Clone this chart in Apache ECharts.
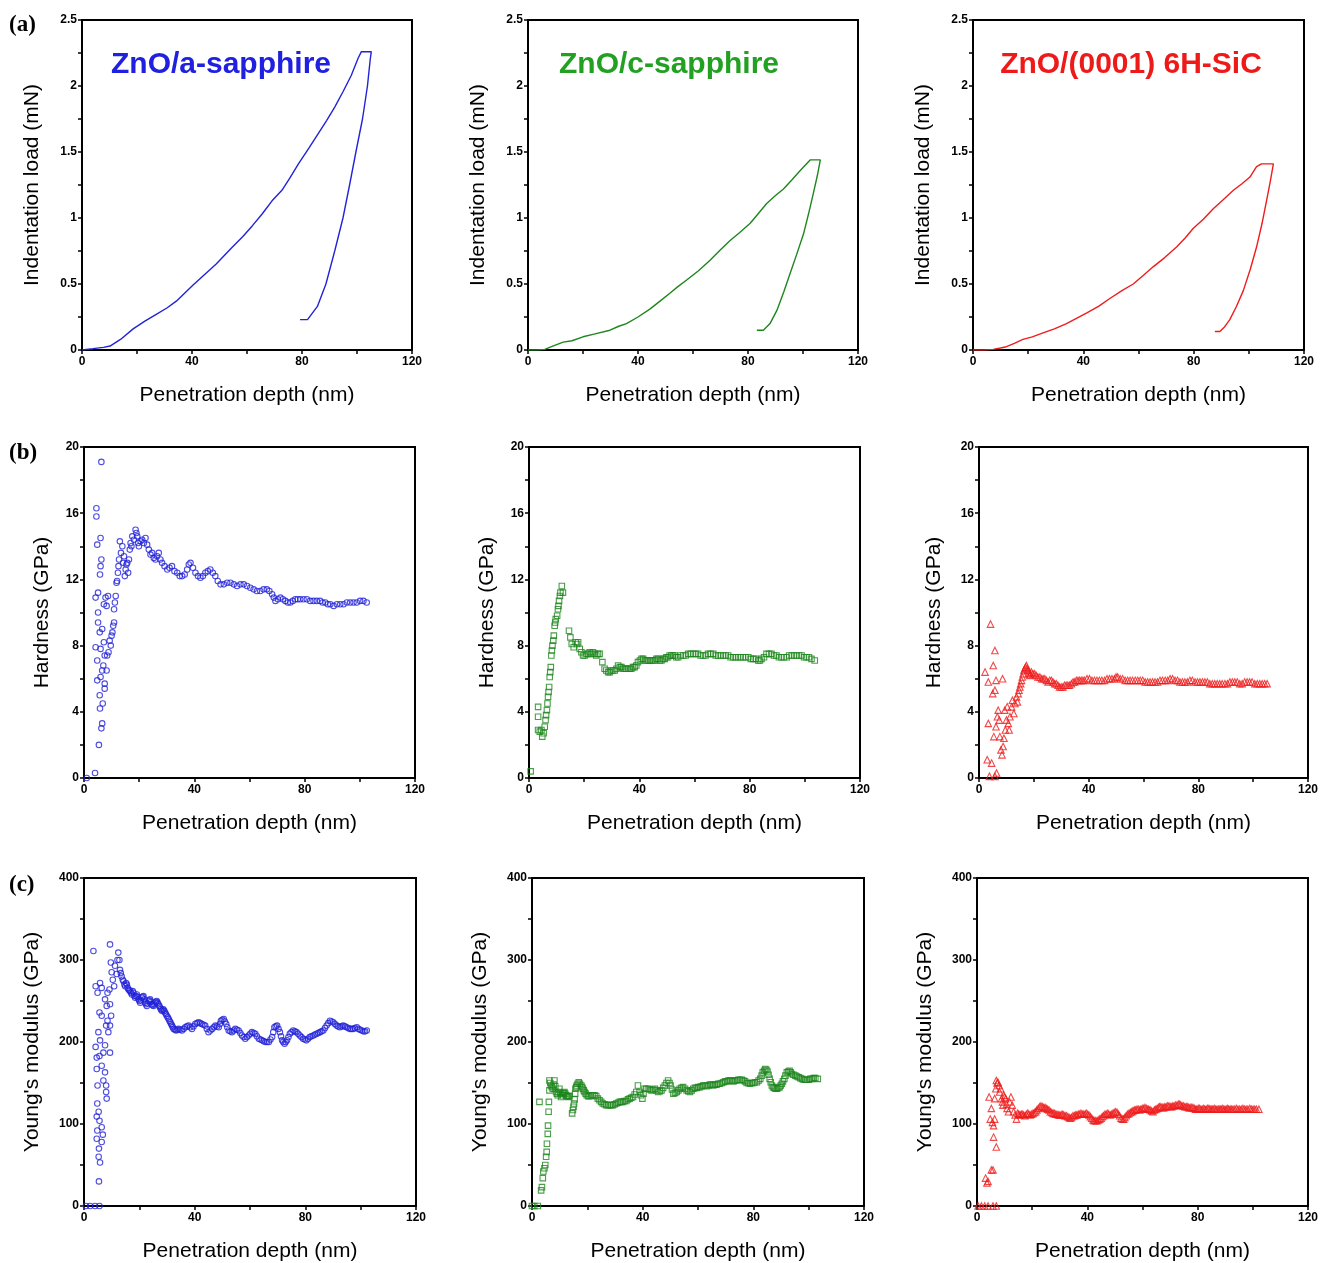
<!DOCTYPE html>
<html><head><meta charset="utf-8">
<script src="https://cdn.jsdelivr.net/npm/echarts@6/dist/echarts.min.js"></script>
<style>html,body{margin:0;padding:0;background:#fff}#c{width:1321px;height:1263px}</style>
</head><body><div id="c"></div>
<script>
// ---- tick labels ----
const xTicks = [0, 40, 80, 120];
const loadTicks = [0, 0.5, 1, 1.5, 2, 2.5];
const hardTicks = [0, 4, 8, 12, 16, 20];
const modTicks = [0, 100, 200, 300, 400];
const sampleNames = ['ZnO/a-sapphire', 'ZnO/c-sapphire', 'ZnO/(0001) 6H-SiC'];
const panelLabels = ['(a)', '(b)', '(c)'];

// ---- (a) load-displacement curves [depth nm, load mN] ----
const loadA = [[0,0],[0.6,0],[4,0.01],[7.8,0.02],[10.2,0.03],[14,0.08],[18.6,0.16],[23,0.22],[27,0.27],[31,0.32],[34.3,0.37],[40.3,0.49],[44.5,0.57],[48.7,0.65],[54.7,0.78],[58.5,0.86],[61.9,0.94],[65.5,1.03],[69.1,1.13],[72.7,1.21],[75.5,1.3],[78.7,1.41],[82.5,1.53],[85.9,1.64],[89,1.74],[91.9,1.84],[95,1.96],[97.9,2.08],[100.4,2.21],[101.6,2.26],[105.2,2.26],[104.8,2.2],[103.8,2.0],[102,1.75],[99.6,1.5],[97.3,1.25],[94.9,1.0],[91.9,0.75],[88.7,0.5],[85.6,0.33],[82,0.23],[79.3,0.23]];
const loadC = [[0,0],[3,0],[6.1,0.005],[9,0.03],[12.8,0.06],[16,0.07],[20,0.1],[24,0.12],[29.8,0.15],[33,0.18],[35.8,0.2],[40,0.25],[44.3,0.31],[48,0.37],[51.6,0.43],[54.5,0.48],[57.7,0.53],[62,0.6],[66.2,0.68],[70,0.76],[73.5,0.83],[77,0.89],[80.8,0.96],[84,1.04],[86.8,1.11],[90,1.17],[92.9,1.22],[96,1.29],[99,1.36],[102.6,1.44],[106.3,1.44],[105.2,1.32],[103.8,1.19],[102,1.03],[100.2,0.88],[97.8,0.73],[95.3,0.58],[93,0.44],[90.5,0.3],[88,0.2],[85.6,0.15],[83.2,0.15]];
const loadS = [[0,0],[4,0],[7.3,0.005],[10,0.015],[12.1,0.025],[15,0.05],[18.1,0.08],[21.5,0.1],[25.4,0.13],[29.5,0.16],[33.9,0.2],[37.5,0.24],[41.1,0.28],[45.5,0.33],[49.6,0.39],[54,0.45],[58.1,0.5],[62,0.57],[65.3,0.63],[69.5,0.7],[73.8,0.78],[77,0.85],[79.8,0.92],[83.5,0.99],[87.1,1.07],[90.8,1.14],[94.4,1.21],[97.5,1.26],[100.4,1.31],[102.8,1.39],[104.6,1.41],[108.9,1.41],[107.8,1.28],[106.5,1.14],[104.8,0.96],[102.8,0.78],[100.5,0.61],[98,0.45],[95.5,0.33],[93.1,0.23],[91,0.17],[89.5,0.14],[87.7,0.14]];

// ---- (b) hardness [depth nm, GPa] ----
const hardA = [[1,0],[4,0.3],[5.4,2.0],[6.3,3.0],[6.6,3.3],[5.8,4.2],[6.8,4.5],[5.7,5.0],[4.8,5.9],[6,6.1],[6.6,6.5],[4.8,7.1],[4.2,7.9],[6,7.8],[5.7,8.8],[5.1,9.4],[5.1,10.0],[4.2,10.9],[5.1,11.2],[5.8,12.3],[6,12.8],[6.3,13.2],[6,14.5],[4.8,14.1],[4.5,15.8],[4.5,16.3],[6.3,19.1],[7.2,10.5],[7.8,10.9],[8.7,11.0],[8.2,10.4],[7.5,7.4],[8.2,6.5],[7.5,5.7],[7.5,5.4],[7,6.8],[7.2,8.2],[6.6,9.0],[8.4,7.4],[8.9,7.6],[9.3,8.3],[9.7,8.0],[10,8.6],[10.3,8.8],[10.6,9.2],[10.9,9.4],[10.9,10.2],[11.2,10.6],[11.5,11.0],[11.8,11.8],[12,11.9],[12.3,12.4],[12.5,12.8],[12.7,13.2],[13,14.3],[13.4,13.6],[13.9,14.0],[14.2,13.0],[14.5,13.4],[14.8,12.2],[15.1,12.6],[15.4,12.9],[15.7,13.0],[16,12.4],[16.3,13.2],[16.6,13.8],[16.9,14.2],[17.2,14.0],[17.5,14.6],[18.1,14.4],[18.7,15.0],[19,14.8],[19.3,14.6],[19.6,14.2],[19.9,14.0],[20.5,14.3],[21.1,14.4],[21.7,14.2],[22.3,14.5],[22.9,14.1],[23.5,13.8],[24.1,13.5],[24.7,13.6],[25.3,13.3],[25.9,13.2],[26.5,13.4],[27.1,13.6],[27.7,13.2],[28.3,13.0],[29.2,12.8],[30.2,12.6],[31,12.7],[31.9,12.8],[32.8,12.5],[33.8,12.4],[34.7,12.2],[35.6,12.2],[36.5,12.3],[37.4,12.6],[38,12.9],[38.6,13.0],[39.5,12.7],[40.4,12.4],[41.3,12.2],[42.2,12.1],[43.1,12.2],[44,12.4],[44.9,12.5],[45.8,12.6],[46.7,12.4],[47.6,12.2],[48.5,11.9],[49.5,11.7],[50.7,11.7],[51.9,11.8],[53.1,11.8],[54.3,11.7],[55.5,11.6],[56.7,11.7],[57.9,11.7],[59.1,11.6],[60.3,11.5],[61.5,11.4],[62.7,11.3],[63.9,11.3],[65.1,11.4],[66.3,11.4],[67.2,11.3],[68.2,11.1],[68.8,10.9],[69.4,10.7],[70.3,10.8],[71.2,10.9],[72.1,10.8],[73,10.7],[73.9,10.6],[74.8,10.6],[75.7,10.7],[76.6,10.8],[77.5,10.8],[78.4,10.8],[79.6,10.8],[80.8,10.8],[82,10.7],[83.2,10.7],[84.4,10.7],[85.6,10.7],[86.5,10.6],[87.5,10.6],[88.4,10.5],[89.3,10.5],[90.5,10.4],[91.7,10.5],[92.9,10.5],[94.1,10.5],[95.3,10.6],[96.5,10.6],[97.7,10.6],[98.9,10.6],[100.1,10.7],[101.3,10.7],[102.5,10.6]];
const hardC = [[0.6,0.4],[3.3,4.3],[3.3,3.7],[3.3,2.9],[3.9,2.8],[4.5,2.9],[4.8,2.5],[5.3,2.7],[5.7,3.1],[6,3.5],[6.2,3.8],[6.5,4.1],[6.7,4.5],[6.9,4.9],[7.1,5.2],[7.3,5.5],[7.5,6.1],[7.7,6.4],[7.9,6.7],[8.1,7.4],[8.3,7.7],[8.5,8.0],[8.8,8.3],[9,8.6],[9.3,9.2],[9.5,9.4],[9.7,9.6],[10.2,9.8],[10.5,10.2],[10.7,10.4],[10.9,10.7],[11.2,11.0],[11.4,11.2],[11.9,11.6],[12.3,11.2],[14.5,8.9],[15,8.5],[15.5,8.1],[16.2,7.9],[16.9,8.2],[17.4,8.1],[17.8,8.2],[18.4,7.8],[19,7.6],[19.6,7.4],[20.2,7.4],[20.8,7.5],[21.4,7.5],[22,7.6],[22.6,7.5],[23.2,7.6],[23.8,7.5],[24.4,7.4],[25,7.5],[25.6,7.5],[26.6,7.0],[27.4,6.6],[28,6.5],[28.7,6.4],[29.3,6.4],[29.9,6.5],[30.5,6.5],[31.1,6.5],[31.7,6.6],[32.3,6.8],[32.9,6.7],[33.5,6.7],[34.1,6.6],[34.7,6.6],[35.3,6.6],[35.9,6.6],[36.5,6.6],[37.1,6.6],[37.7,6.7],[38.3,6.7],[38.9,6.8],[39.5,7.0],[40.2,7.1],[40.8,7.2],[41.4,7.2],[42,7.1],[42.6,7.1],[43.2,7.1],[43.8,7.1],[44.4,7.1],[45,7.1],[45.6,7.1],[46.2,7.2],[46.8,7.2],[47.4,7.1],[48,7.1],[48.6,7.2],[49.2,7.2],[49.8,7.3],[50.4,7.3],[51,7.4],[51.6,7.4],[52.2,7.4],[52.8,7.4],[53.4,7.3],[54.1,7.3],[55,7.4],[55.9,7.4],[56.8,7.4],[57.7,7.5],[58.6,7.5],[59.5,7.5],[60.4,7.5],[61.3,7.5],[62.2,7.4],[63.1,7.4],[64,7.4],[64.9,7.5],[65.8,7.5],[66.8,7.5],[67.7,7.4],[68.6,7.4],[69.5,7.4],[70.4,7.4],[71.3,7.4],[72.2,7.4],[73.1,7.3],[74,7.3],[74.9,7.3],[75.8,7.3],[76.7,7.3],[77.6,7.3],[78.5,7.3],[79.5,7.3],[80.4,7.2],[81.3,7.2],[82.2,7.2],[83.1,7.1],[83.7,7.1],[84.3,7.2],[85.2,7.3],[86.1,7.5],[87,7.5],[87.9,7.5],[88.8,7.4],[89.7,7.4],[90.6,7.3],[91.5,7.3],[92.4,7.3],[93.4,7.3],[94.3,7.4],[95.2,7.4],[96.1,7.4],[97,7.4],[97.9,7.4],[98.8,7.4],[99.7,7.3],[100.6,7.3],[101.5,7.3],[102.4,7.2],[103.6,7.1]];
const hardS = [[2.2,6.4],[3.4,5.8],[3.4,3.3],[3,1.1],[4.6,0.9],[3.8,0.1],[5.8,0.1],[6.4,0.3],[4.2,9.3],[5.2,6.8],[5.8,7.7],[5,5.1],[5.8,5.3],[6.2,5.9],[8.6,6.0],[5.4,2.5],[6.2,3.1],[6.7,3.7],[7,4.1],[7.4,3.5],[7.6,2.5],[8,1.7],[8.4,1.4],[8.8,1.9],[9.1,2.4],[9.6,2.9],[10,3.5],[9.4,4.1],[10.3,4.3],[10.7,3.3],[11,2.9],[11.3,3.7],[11.9,4.3],[12.2,4.7],[12.7,3.9],[13.1,4.5],[13.7,4.9],[14,4.6],[14.3,5.1],[14.6,5.3],[14.9,5.5],[15.2,5.7],[15.5,5.9],[15.8,6.1],[16.1,6.3],[16.4,6.5],[16.7,6.6],[17,6.7],[17.3,6.8],[17.6,6.6],[17.9,6.5],[18.2,6.3],[18.5,6.2],[18.8,6.3],[19.1,6.4],[19.7,6.3],[20.3,6.3],[20.9,6.2],[21.5,6.1],[22.2,6.1],[22.8,6.0],[23.4,6.0],[24,6.0],[24.6,5.9],[25.2,5.8],[25.8,5.9],[26.4,5.9],[27,5.8],[27.6,5.7],[28.2,5.7],[28.8,5.6],[29.4,5.5],[30,5.5],[30.6,5.5],[31.2,5.6],[31.8,5.6],[32.4,5.6],[33,5.6],[33.7,5.7],[34.3,5.8],[34.9,5.8],[35.5,5.9],[36.1,5.9],[36.7,5.9],[37.3,5.9],[37.9,5.9],[38.5,5.9],[39.4,6.0],[40.3,6.0],[41.2,5.9],[42.1,5.9],[43,5.9],[43.9,5.9],[44.8,5.9],[45.8,5.9],[46.7,6.0],[47.6,6.0],[48.5,6.0],[49.4,6.0],[50,6.1],[50.6,6.1],[51.5,6.0],[52.4,6.0],[53.3,5.9],[54.2,5.9],[55.1,5.9],[56,5.9],[57,5.9],[57.9,5.9],[58.8,5.9],[59.7,5.9],[60.6,5.8],[61.5,5.8],[62.4,5.8],[63.3,5.8],[64.2,5.8],[65.1,5.8],[66,5.9],[66.9,5.9],[67.9,5.9],[68.8,5.9],[69.7,6.0],[70.6,6.0],[71.5,5.9],[72.4,5.9],[73.3,5.8],[74.2,5.8],[75.1,5.8],[76,5.8],[76.9,5.9],[77.8,5.9],[78.8,5.8],[79.7,5.8],[80.6,5.8],[81.5,5.8],[82.4,5.8],[83.3,5.8],[84.2,5.7],[85.1,5.7],[86,5.7],[86.9,5.7],[87.8,5.7],[88.7,5.7],[89.7,5.7],[90.6,5.7],[91.5,5.8],[92.4,5.8],[93.3,5.8],[94.2,5.8],[95.1,5.7],[96,5.7],[96.9,5.8],[97.8,5.8],[98.7,5.8],[99.6,5.8],[100.6,5.7],[101.5,5.7],[102.4,5.7],[103.3,5.7],[104.2,5.7],[105.1,5.7]];

// ---- (c) Young's modulus [depth nm, GPa] ----
const modA = [[0.7,0],[2.2,0],[4,0],[5.6,0],[3.4,311],[4.2,268],[5.8,272],[6.4,266],[4.9,260],[5.6,236],[6.4,232],[5.2,212],[5.8,202],[4.2,194],[4.6,181],[5.6,183],[6.4,171],[4.6,167],[4.9,147],[4.8,125],[5.3,115],[4.6,109],[5.6,104],[4.8,92],[4.6,82],[5.4,70],[5.3,60],[5.8,53],[5.4,30],[6.4,96],[6.8,87],[6.4,78],[7,153],[7.6,163],[8,147],[8,139],[8.2,131],[7,187],[7.6,196],[8,220],[8.5,226],[8.8,212],[8.2,244],[7.6,252],[8.5,260],[9.2,264],[9.4,246],[9.8,232],[9.4,220],[9.4,187],[9.4,319],[9.7,297],[10,285],[10.4,276],[10.9,268],[11.2,293],[11.8,283],[12.1,300],[12.4,309],[12.8,300],[13,288],[13.3,284],[13.6,280],[14,276],[14.3,274],[14.6,270],[14.9,268],[15.2,272],[15.5,270],[15.8,266],[16.1,264],[16.4,263],[16.7,262],[17,260],[17.3,258],[17.6,262],[17.9,260],[18.2,256],[18.5,254],[18.8,256],[19.1,258],[19.4,255],[19.7,252],[20,250],[20.3,248],[20.6,251],[20.9,254],[21.2,255],[21.5,256],[21.8,252],[22.1,248],[22.4,246],[22.7,244],[23,247],[23.3,250],[23.6,251],[23.9,252],[24.2,249],[24.5,246],[24.8,245],[25.1,244],[25.4,246],[25.7,248],[26,249],[26.3,250],[26.6,248],[26.9,246],[27.2,244],[27.5,242],[27.8,240],[28.1,238],[28.4,239],[28.7,240],[29,238],[29.3,236],[29.6,234],[29.9,232],[30.3,230],[30.6,228],[30.9,226],[31.2,224],[31.5,222],[31.8,220],[32.1,218],[32.4,216],[32.9,215],[33.3,214],[33.8,215],[34.2,216],[34.8,215],[35.4,214],[36,216],[36.6,218],[37.2,219],[37.8,220],[38.4,218],[39,216],[39.6,219],[40.2,222],[40.8,223],[41.4,224],[42,223],[42.6,222],[43.2,221],[43.8,220],[44.4,216],[45,212],[45.7,214],[46.3,216],[46.9,218],[47.5,220],[48.1,219],[48.7,218],[49.1,222],[49.5,226],[50,227],[50.5,228],[50.9,225],[51.4,222],[51.8,218],[52.3,214],[52.9,213],[53.5,212],[54.1,214],[54.7,216],[55.3,215],[55.9,214],[56.5,211],[57.1,208],[57.7,206],[58.3,204],[58.9,206],[59.5,208],[60.1,210],[60.7,212],[61.3,211],[61.9,210],[62.5,207],[63.2,204],[63.8,203],[64.4,202],[65,201],[65.6,200],[66.2,200],[66.8,200],[67.4,203],[68,206],[68.4,212],[68.8,218],[69.3,219],[69.8,220],[70.3,216],[70.8,212],[71.2,207],[71.6,202],[72,200],[72.5,198],[72.9,200],[73.4,202],[73.9,206],[74.4,210],[75,212],[75.6,214],[76.2,213],[76.8,212],[77.4,210],[78,208],[78.6,206],[79.2,204],[79.8,203],[80.4,202],[81,204],[81.6,206],[82.2,207],[82.9,208],[83.5,209],[84.1,210],[84.7,211],[85.3,212],[85.9,213],[86.5,214],[87.1,217],[87.7,220],[88.3,223],[88.9,226],[89.5,225],[90.1,224],[90.7,222],[91.3,220],[91.9,219],[92.5,218],[93.1,219],[93.7,220],[94.3,219],[94.9,218],[95.5,217],[96.1,216],[96.7,216],[97.3,216],[97.9,217],[98.6,218],[99.2,216],[99.8,215],[100.4,214],[101,213],[101.6,213],[102.2,214]];
const modC = [[0,0],[0.8,0],[2.1,0],[2.7,127],[3.3,19],[3.6,23],[3.9,34],[4.1,42],[4.5,46],[4.8,50],[5.1,60],[5.3,66],[5.4,76],[5.7,88],[5.8,98],[6,115],[6.1,127],[6.3,141],[6.3,153],[6.6,150],[6.9,147],[7.2,145],[7.5,143],[7.8,148],[8.1,153],[8.4,146],[8.7,139],[9,137],[9.3,135],[9.6,139],[9.9,143],[10.2,138],[10.5,133],[10.8,135],[11.1,137],[11.4,138],[11.7,139],[12,137],[12.3,135],[12.6,134],[12.9,133],[13.2,134],[13.5,134],[14.5,113],[14.8,117],[15,121],[15.2,125],[15.4,130],[15.6,137],[15.7,143],[16,145],[16.2,147],[16.5,149],[16.9,151],[17.3,149],[17.8,147],[18.1,145],[18.4,143],[18.7,141],[19,139],[19.4,137],[19.8,135],[20.3,134],[20.8,134],[21.4,135],[22,135],[22.6,135],[23.2,134],[23.8,131],[24.4,129],[25,127],[25.6,125],[26.2,124],[26.8,123],[27.4,123],[28.1,123],[28.7,123],[29.3,123],[29.9,124],[30.5,125],[31.1,126],[31.7,127],[32.3,127],[32.9,127],[33.5,128],[34.1,128],[34.7,130],[35.3,131],[35.9,132],[36.5,133],[37.1,136],[37.7,139],[38.3,147],[38.9,139],[39.4,135],[39.9,131],[40.3,137],[40.7,143],[41.3,143],[41.9,143],[42.5,142],[43.2,141],[43.8,142],[44.4,143],[45,141],[45.6,139],[46.2,140],[46.8,141],[47.4,144],[48,147],[48.6,150],[49.2,153],[49.7,150],[50.1,147],[50.6,142],[51.1,137],[51.7,138],[52.3,139],[52.9,141],[53.4,143],[54,144],[54.6,145],[55.3,143],[55.9,141],[56.5,140],[57.1,139],[57.7,141],[58.3,143],[58.9,144],[59.5,144],[60.1,145],[60.7,145],[61.3,146],[61.9,147],[62.5,147],[63.1,146],[63.7,147],[64.3,148],[64.9,148],[65.5,147],[66.1,148],[66.7,148],[67.3,149],[67.9,149],[68.6,150],[69.2,151],[69.8,152],[70.4,152],[71,153],[71.6,153],[72.2,153],[72.8,152],[73.4,153],[74,153],[74.6,154],[75.2,154],[75.8,154],[76.4,153],[77,152],[77.6,150],[78.2,150],[78.8,149],[79.4,150],[80,150],[80.6,151],[81.3,151],[81.9,153],[82.5,155],[83,159],[83.4,163],[83.9,165],[84.3,167],[84.7,166],[85.1,164],[85.5,160],[85.9,155],[86.3,151],[86.7,147],[87.1,145],[87.5,144],[88,143],[88.5,143],[89,144],[89.5,145],[89.9,147],[90.3,149],[90.7,152],[91.2,155],[91.6,159],[92.1,163],[92.6,164],[93.1,165],[93.5,163],[93.9,161],[94.5,160],[95.2,159],[95.8,158],[96.4,157],[97,156],[97.6,155],[98.2,154],[98.8,154],[99.4,154],[100,154],[100.6,155],[101.2,155],[101.8,156],[102.4,156],[103.3,155]];
const modS = [[0.4,0],[1.6,0],[2.8,0],[4,0],[5.8,0],[7,0],[3.1,34],[3.6,28],[4,30],[5.2,44],[5.8,44],[4.4,133],[4.8,106],[5.2,119],[5.6,102],[6,98],[6.4,106],[6,84],[7,72],[6.4,131],[6.8,143],[7,153],[7.3,150],[7.6,151],[8,147],[8.2,139],[8.6,143],[8.9,131],[9.2,127],[9.4,123],[9.7,135],[10,133],[10.4,131],[10.7,124],[10.9,119],[11.4,115],[11.8,127],[12.3,133],[12.8,123],[13.3,115],[13.8,111],[14.3,106],[14.7,113],[15.1,112],[15.5,111],[16,112],[16.4,112],[16.9,111],[17.4,110],[17.9,112],[18.4,113],[18.8,112],[19.3,111],[19.8,112],[20.3,113],[20.8,114],[21.3,115],[21.7,117],[22.2,119],[22.7,121],[23.2,122],[23.7,121],[24.2,120],[24.7,120],[25.1,119],[25.6,118],[26.1,117],[26.6,115],[27.1,114],[27.6,113],[28,113],[28.5,112],[29,112],[29.5,111],[30,111],[30.5,111],[30.9,112],[31.4,111],[31.9,110],[32.4,110],[32.9,109],[33.4,108],[33.8,107],[34.3,108],[34.8,110],[35.3,110],[35.8,111],[36.2,111],[36.7,112],[37.2,112],[37.7,113],[38.2,112],[38.7,112],[39.2,112],[39.6,113],[40.1,112],[40.6,111],[41.1,109],[41.6,107],[42.1,105],[42.5,104],[43,104],[43.5,104],[44,105],[44.5,106],[45,107],[45.4,109],[45.9,110],[46.4,112],[46.9,112],[47.4,113],[47.8,112],[48.3,111],[48.8,112],[49.3,113],[49.8,114],[50.3,115],[50.8,114],[51.2,112],[51.7,110],[52.2,107],[52.7,106],[53.2,106],[53.6,108],[54.1,110],[54.6,112],[55.1,113],[55.6,114],[56.1,115],[56.5,116],[57,117],[57.5,117],[58,118],[58.5,118],[59,117],[59.4,118],[59.9,119],[60.4,119],[60.9,120],[61.4,119],[61.9,118],[62.3,118],[62.8,117],[63.3,116],[63.8,115],[64.3,117],[64.8,118],[65.3,119],[65.8,120],[66.2,121],[66.7,121],[67.2,120],[67.7,120],[68.1,121],[68.6,121],[69.1,122],[69.6,122],[70.1,121],[70.6,121],[71,122],[71.5,122],[72,123],[72.5,123],[73,124],[73.5,124],[73.9,123],[74.4,122],[74.9,122],[75.4,121],[75.9,121],[76.4,121],[76.8,120],[77.3,120],[77.8,120],[78.3,120],[78.8,119],[79.3,118],[79.7,118],[80.2,119],[80.7,119],[81.2,118],[81.7,118],[82.2,119],[82.6,118],[83.1,118],[83.6,119],[84.1,119],[84.6,118],[85.1,118],[85.5,118],[86,119],[86.5,118],[87,118],[87.5,118],[88,118],[88.4,118],[88.9,119],[89.4,118],[89.9,118],[90.4,118],[90.9,119],[91.3,118],[91.8,118],[92.3,118],[92.8,118],[93.4,118],[94,119],[94.6,118],[95.2,118],[95.8,118],[96.4,119],[97,118],[97.6,118],[98.2,118],[98.9,119],[99.5,118],[100.1,118],[100.7,118],[101.3,118],[102.2,118]];

const colors = ['#2222d8', '#1d861d', '#ee1c1c'];
const textColors = ['#2020e0', '#22a022', '#ee1a1a'];

// layout of plot boxes [left, top, width, height]
const boxes = [
  [[82,20,330,330],[528,20,330,330],[973,20,331,330]],
  [[84,447,331,331],[529,447,331,331],[979,447,330,331]],
  [[84,878,332,330],[532,878,332,330],[977,878,331,330]]
];
const yNames = ['Indentation load (mN)', 'Hardness (GPa)', "Young's modulus (GPa)"];
const yCfg = [
  {max: 2.5, interval: 0.25, ticks: loadTicks},
  {max: 20, interval: 2, ticks: hardTicks},
  {max: 400, interval: 50, ticks: modTicks}
];
const yGaps = [[39,39,39],[31,31,34],[41,41,41]];
const seriesData = [[loadA, loadC, loadS],[hardA, hardC, hardS],[modA, modC, modS]];
const symbols = ['circle', 'rect', 'triangle'];

const grid = [], xAxis = [], yAxis = [], series = [], title = [];
const lab = {fontFamily: 'Arial, "Liberation Sans", sans-serif', fontWeight: 'bold', fontSize: 12, color: '#000'};
const nameStyle = {fontFamily: 'Arial, "Liberation Sans", sans-serif', fontSize: 21, color: '#000'};
let idx = 0;
for (let r = 0; r < 3; r++) {
  for (let c = 0; c < 3; c++) {
    const b = boxes[r][c];
    grid.push({left: b[0], top: b[1], width: b[2], height: b[3], show: true, borderColor: '#000', borderWidth: 2, backgroundColor: 'transparent'});
    xAxis.push({
      type: 'value', gridIndex: idx, min: 0, max: 120, interval: 20,
      name: 'Penetration depth (nm)', nameLocation: 'middle', nameGap: 35, nameTextStyle: nameStyle,
      axisLine: {show: true, lineStyle: {color: '#000', width: 2}},
      axisTick: {show: true, length: 4, lineStyle: {color: '#000', width: 1.5}},
      splitLine: {show: false},
      axisLabel: Object.assign({margin: 6, formatter: v => xTicks.includes(v) ? String(v) : ''}, lab)
    });
    const yc = yCfg[r];
    yAxis.push({
      type: 'value', gridIndex: idx, min: 0, max: yc.max, interval: yc.interval,
      name: yNames[r], nameLocation: 'middle', nameGap: yGaps[r][c], nameTextStyle: nameStyle,
      axisLine: {show: true, lineStyle: {color: '#000', width: 2}},
      axisTick: {show: true, length: 4, lineStyle: {color: '#000', width: 1.5}},
      splitLine: {show: false},
      axisLabel: Object.assign({margin: 5, formatter: v => yc.ticks.some(t => Math.abs(t - v) < 1e-9) ? String(v) : ''}, lab)
    });
    const d = seriesData[r][c];
    if (r === 0) {
      series.push({type: 'line', xAxisIndex: idx, yAxisIndex: idx, data: d, showSymbol: false, smooth: false,
        lineStyle: {color: colors[c], width: 1.4}, silent: true, animation: false});
    } else {
      series.push({type: 'scatter', xAxisIndex: idx, yAxisIndex: idx, data: d, symbol: symbols[c], symbolSize: c === 2 ? 6.5 : 5.5,
        itemStyle: {color: 'rgba(0,0,0,0)', borderColor: colors[c], borderWidth: 1.1}, silent: true, animation: false});
    }
    idx++;
  }
}
// sample names inside top row
const nameCenters = [[221, 62], [669, 62], [1131, 62]];
for (let c = 0; c < 3; c++) {
  title.push({text: sampleNames[c], left: nameCenters[c][0], top: nameCenters[c][1] - 12, textAlign: 'center', padding: 0,
    textStyle: {fontFamily: 'Arial, "Liberation Sans", sans-serif', fontWeight: 'bold', fontSize: 30, color: textColors[c]}});
}
const panelPos = [14, 442, 874];
for (let r = 0; r < 3; r++) {
  title.push({text: panelLabels[r], left: 9, top: panelPos[r], padding: 0,
    textStyle: {fontFamily: '"Liberation Serif", "Times New Roman", serif', fontWeight: 'bold', fontSize: 23, color: '#000'}});
}

const chart = echarts.init(document.getElementById('c'), null, {renderer: 'canvas'});
chart.setOption({animation: false, backgroundColor: '#fff', title, grid, xAxis, yAxis, series});
</script>
</body></html>
